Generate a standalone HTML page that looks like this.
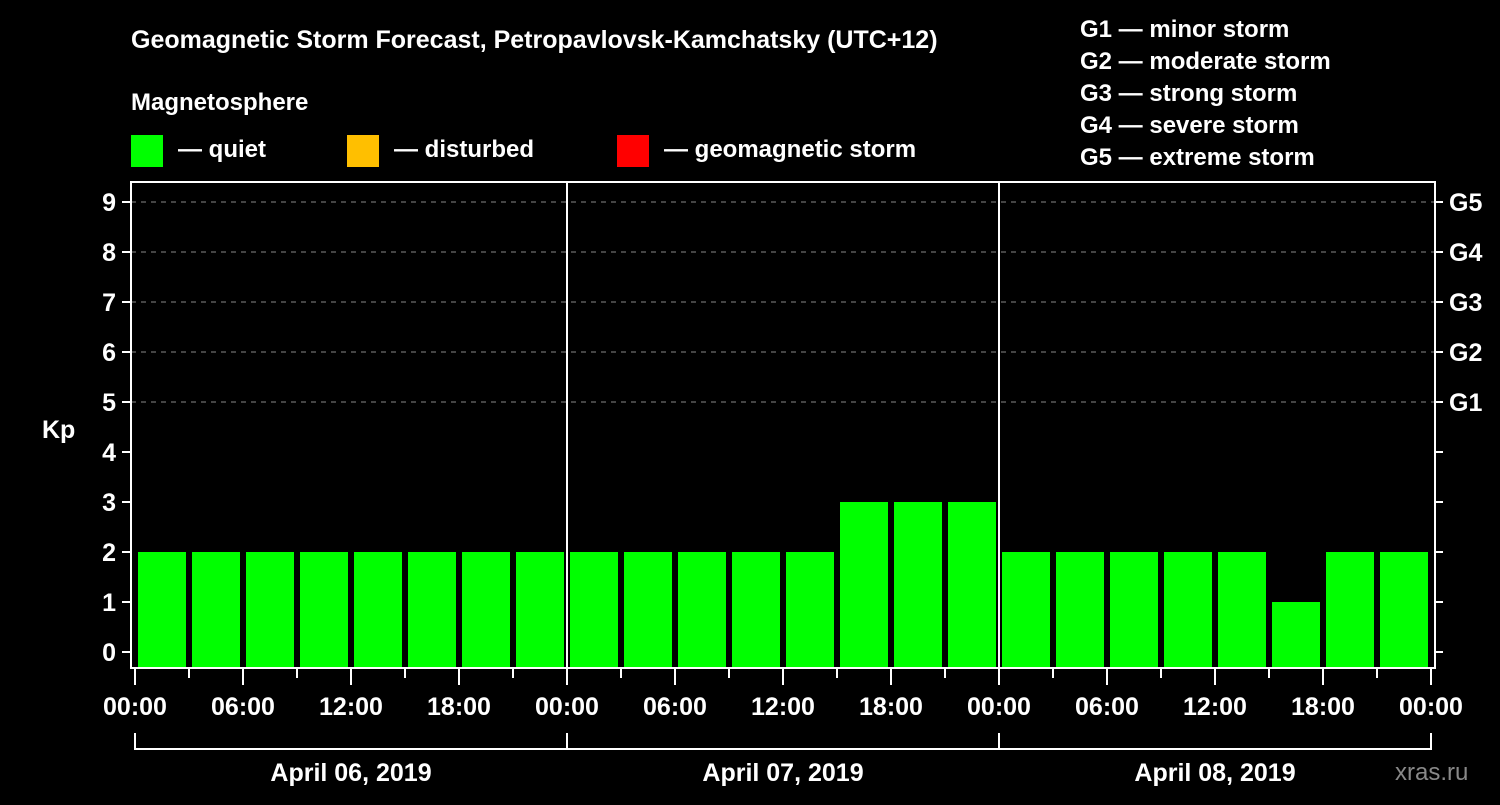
<!DOCTYPE html>
<html><head><meta charset="utf-8"><style>
body{margin:0;background:#000;width:1500px;height:800px;overflow:hidden}
text{font-family:"Liberation Sans",sans-serif;font-weight:bold;fill:#fff}
</style></head><body>
<svg id="chart" width="1500" height="800" xmlns="http://www.w3.org/2000/svg">
<text x="131" y="48" font-size="25">Geomagnetic Storm Forecast, Petropavlovsk-Kamchatsky (UTC+12)</text>
<g font-size="24">
<text x="1080" y="37">G1 — minor storm</text>
<text x="1080" y="69">G2 — moderate storm</text>
<text x="1080" y="101">G3 — strong storm</text>
<text x="1080" y="133">G4 — severe storm</text>
<text x="1080" y="165">G5 — extreme storm</text>
</g>
<text x="131" y="110" font-size="24">Magnetosphere</text>
<g><rect x="131" y="135" width="32" height="32" fill="#00ff00"/><text x="178" y="157" font-size="24">— quiet</text></g>
<g><rect x="347" y="135" width="32" height="32" fill="#ffbf00"/><text x="394" y="157" font-size="24">— disturbed</text></g>
<g><rect x="617" y="135" width="32" height="32" fill="#ff0000"/><text x="664" y="157" font-size="24">— geomagnetic storm</text></g>
<text x="42" y="438" font-size="25">Kp</text>
<text x="1395" y="780" font-size="24" fill="#888" style="fill:#888;font-weight:normal">xras.ru</text>
<g id="grid"></g><g id="bars"></g><g id="axes"></g>
</svg>
<script>
const days = ["April 06, 2019","April 07, 2019","April 08, 2019"];
const hourLabels = ["00:00","06:00","12:00","18:00"];
const kpValues = [2,2,2,2,2,2,2,2, 2,2,2,2,2,3,3,3, 2,2,2,2,2,1,2,2];
const yTicks = [0,1,2,3,4,5,6,7,8,9];
const gLabels = ["G1","G2","G3","G4","G5"];
const gLevels = [5,6,7,8,9];
const NS="http://www.w3.org/2000/svg";
const L=131,R=1435,T=182,B=668,X0=135,X1=1431;
const y=v=>652-v*50;
const x=i=>X0+(X1-X0)*i/kpValues.length;
function mk(p,tag,a){const e=document.createElementNS(NS,tag);for(const k in a)e.setAttribute(k,a[k]);p.appendChild(e);return e;}
const grid=document.getElementById('grid'),bars=document.getElementById('bars'),axes=document.getElementById('axes');
gLevels.forEach(v=>{const l=mk(grid,'line',{x1:L,x2:R,y1:y(v),y2:y(v),stroke:'#888','stroke-dasharray':'5,5','stroke-width':1});

});
kpValues.forEach((v,i)=>{const c=v>=5?'#ff0000':v>=4?'#ffbf00':'#00ff00';
const r=mk(bars,'rect',{x:x(i)+3,y:y(v),width:x(1)-x(0)-6,height:B-y(v),fill:c});

});
const fr=mk(axes,'rect',{x:L,y:T,width:R-L,height:B-T,fill:'none',stroke:'#fff','stroke-width':2});


for(let d=1;d<days.length;d++){const xx=x(d*8);const l=mk(axes,'line',{x1:xx,x2:xx,y1:T,y2:B,stroke:'#fff','stroke-width':2});

}
yTicks.forEach(v=>{mk(axes,'line',{x1:122,x2:L,y1:y(v),y2:y(v),stroke:'#fff','stroke-width':2});
mk(axes,'line',{x1:R,x2:1443,y1:y(v),y2:y(v),stroke:'#fff','stroke-width':2});
const t=mk(axes,'text',{x:116,y:y(v)+9,'text-anchor':'end','font-size':25});t.textContent=v;

});
gLabels.forEach((g,i)=>{const t=mk(axes,'text',{x:1449,y:y(gLevels[i])+9,'font-size':25});t.textContent=g;

});
for(let i=0;i<=kpValues.length;i++){const xx=x(i);const major=i%2===0;
mk(axes,'line',{x1:xx,x2:xx,y1:B,y2:major?685:678,stroke:'#fff','stroke-width':2});
if(major){const t=mk(axes,'text',{x:xx,y:715,'text-anchor':'middle','font-size':25});t.textContent=hourLabels[(i/2)%4];

}}
days.forEach((d,i)=>{const a=x(i*8),b=x(i*8+8);
mk(axes,'line',{x1:a,x2:b,y1:749,y2:749,stroke:'#fff','stroke-width':2});
mk(axes,'line',{x1:a,x2:a,y1:733,y2:750,stroke:'#fff','stroke-width':2});
if(i===days.length-1)mk(axes,'line',{x1:b,x2:b,y1:733,y2:750,stroke:'#fff','stroke-width':2});
const t=mk(axes,'text',{x:(a+b)/2,y:781,'text-anchor':'middle','font-size':25});t.textContent=d;

});
</script>
</body></html>
